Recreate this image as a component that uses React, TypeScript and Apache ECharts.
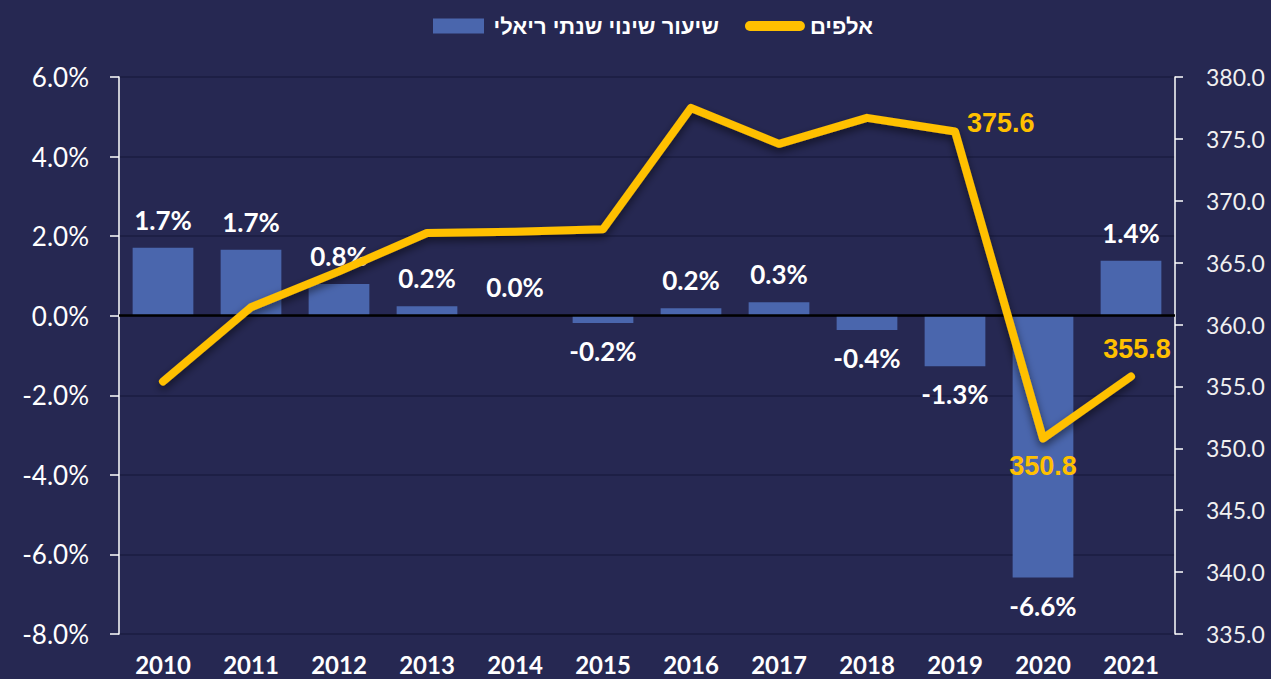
import React, { useEffect, useRef } from "react";
import * as echarts from "echarts";

const years = ["2010", "2011", "2012", "2013", "2014", "2015", "2016", "2017", "2018", "2019", "2020", "2021"];
const realChange = [1.71, 1.66, 0.8, 0.24, 0.02, -0.18, 0.19, 0.34, -0.36, -1.27, -6.58, 1.38];
const thousands = [355.4, 361.4, 364.3, 367.4, 367.5, 367.7, 377.5, 374.6, 376.7, 375.6, 350.8, 355.8];
const labeledLinePoints: Record<number, string> = { 9: "right", 10: "bottom", 11: "top" };
const barName = "שיעור שינוי שנתי ריאלי";
const lineName = "אלפים";

const BG = "#262852";
const GRID = "#1d1f45";
const BAR = "#4a66ad";
const YELLOW = "#ffc000";
const FONT = "Lato, 'Liberation Sans', sans-serif";

export default function App() {
  const ref = useRef<HTMLDivElement>(null);
  useEffect(() => {
    if (!ref.current) return;
    const chart = echarts.init(ref.current, null, { renderer: "svg" });
    chart.setOption({
      animation: false,
      backgroundColor: BG,
      textStyle: { fontFamily: FONT },
      legend: {
        top: 10,
        left: 428,
        itemWidth: 60,
        itemHeight: 15,
        itemGap: 26,
        textStyle: { color: "#ffffff", fontSize: 22, fontWeight: "bold", fontFamily: "'Liberation Sans', Arial, sans-serif" },
        data: [
          { name: barName, icon: "path://M0,0 L51,0 L51,15 L0,15 Z" },
          { name: lineName, icon: "path://M5,0 L55,0 A5,5 0 0 1 55,10 L5,10 A5,5 0 0 1 5,0 Z" },
        ],
      },
      grid: { left: 119, right: 96, top: 77, bottom: 45, containLabel: false, outerBoundsMode: "none" },
      xAxis: {
        type: "category",
        data: years,
        axisLine: { show: false, onZero: false },
        axisTick: { show: false },
        axisLabel: { color: "#ffffff", fontSize: 24, fontWeight: "bold", margin: 18 },
      },
      yAxis: [
        {
          type: "value",
          min: -8,
          max: 6,
          interval: 2,
          axisLine: { show: true, onZero: false, lineStyle: { color: "#ffffff", width: 1.5 } },
          axisTick: { show: true, length: 9, lineStyle: { color: "#ffffff", width: 1.5 } },
          axisLabel: { color: "#ffffff", fontSize: 26, margin: 30, formatter: (v: number) => v.toFixed(1) + "%" },
          splitLine: { show: true, lineStyle: { color: GRID, width: 2 } },
        },
        {
          type: "value",
          min: 335,
          max: 380,
          interval: 5,
          position: "right",
          axisLine: { show: true, onZero: false, lineStyle: { color: "#ffffff", width: 1.5 } },
          axisTick: { show: true, length: 8, lineStyle: { color: "#ffffff", width: 1.5 } },
          axisLabel: { color: "#f0f0f0", fontSize: 23, margin: 31, formatter: (v: number) => v.toFixed(1) },
          splitLine: { show: false },
        },
      ],
      series: [
        {
          name: barName,
          type: "bar",
          yAxisIndex: 0,
          barWidth: "69%",
          itemStyle: { color: BAR },
          data: realChange.map((v) => ({
            value: v,
            label: {
              show: true,
              position: v >= 0 ? "top" : "bottom",
              distance: 15,
              color: "#ffffff",
              fontSize: 26,
              fontWeight: "bold",
              formatter: () => v.toFixed(1) + "%",
            },
          })),
          markLine: {
            silent: true,
            symbol: "none",
            label: { show: false },
            lineStyle: { color: "#000000", width: 2.5, type: "solid" },
            data: [{ yAxis: 0 }],
          },
        },
        {
          name: lineName,
          type: "line",
          yAxisIndex: 1,
          color: YELLOW,
          symbol: "circle",
          symbolSize: 0.1,
          showSymbol: true,
          lineStyle: {
            color: YELLOW,
            width: 8,
            join: "round",
            cap: "round",
            shadowColor: "rgba(0,0,0,0.55)",
            shadowBlur: 8,
            shadowOffsetY: 4,
          },
          itemStyle: { color: YELLOW },
          z: 5,
          data: thousands.map((v, i) => {
            const pos = labeledLinePoints[i];
            return {
              value: v,
              label: pos
                ? {
                    show: true,
                    position: pos,
                    distance: pos === "right" ? 12 : 14,
                    offset: pos === "right" ? [0, -8] : [pos === "top" ? 6 : 0, 0],
                    color: YELLOW,
                    fontSize: 27,
                    fontWeight: "bold",
                    fontFamily: "'Liberation Sans', Arial, sans-serif",
                    formatter: () => v.toFixed(1),
                  }
                : { show: false },
            };
          }),
        },
      ],
    });
    return () => chart.dispose();
  }, []);
  return <div ref={ref} style={{ position: "fixed", left: 0, top: 0, width: 1271, height: 679 }} />;
}
